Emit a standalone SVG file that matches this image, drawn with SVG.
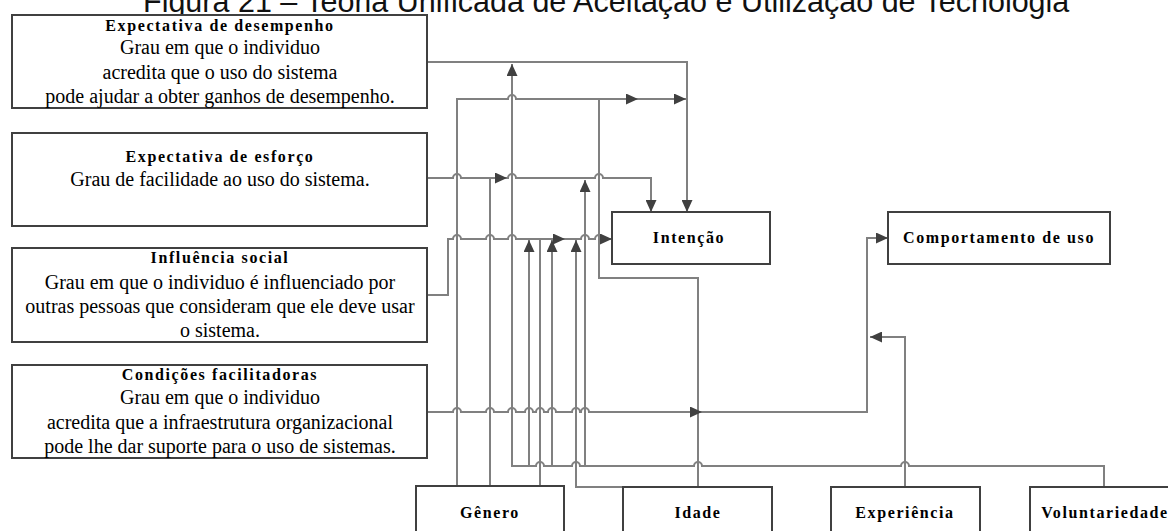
<svg xmlns="http://www.w3.org/2000/svg" width="1168" height="531" viewBox="0 0 1168 531">
<style>
.box{fill:#fff;stroke:#404040;stroke-width:2}
.ttl{font-family:"Liberation Serif",serif;font-weight:bold;font-size:16px;letter-spacing:1.6px;text-anchor:middle;fill:#000}
.body{font-family:"Liberation Serif",serif;font-size:20px;text-anchor:middle;fill:#000}
.conn{fill:none;stroke:#808080;stroke-width:2}
.arr{marker-end:url(#ah)}
.title{font-family:"Liberation Sans",Arial,sans-serif;font-size:30.5px;fill:#111}
</style>
<defs>
<marker id="ah" markerWidth="12" markerHeight="11" refX="12" refY="5.5" orient="auto" markerUnits="userSpaceOnUse"><path d="M0,0 L12,5.5 L0,11 z" fill="#404040"/></marker>
</defs>
<rect width="1168" height="531" fill="#fff"/>
<text class="title" x="143" y="12">Figura 21 – Teoria Unificada de Aceitação e Utilização de Tecnologia</text>

<g id="connectors">
<path class="conn arr" d="M427,62 H687 V212"/>
<path class="conn arr" d="M457,486 V99 H508 A4,4 0 0 1 516,99 H686"/>
<path class="conn arr" d="M698,487 V278 H599 V99 H638"/>
<path class="conn arr" d="M427,178 H453 A4,4 0 0 1 461,178 H508 A4,4 0 0 1 516,178 H595 A4,4 0 0 1 603,178 H651 V212"/>
<path class="conn arr" d="M490,486 V178 H507"/>
<path class="conn arr" d="M427,295 H448 V239 H453 A4,4 0 0 1 461,239 H486 A4,4 0 0 1 494,239 H508 A4,4 0 0 1 516,239 H581 A4,4 0 0 1 589,239 H595 A4,4 0 0 1 603,239 H612"/>
<path class="conn arr" d="M540,486 V239 H565"/>
<path class="conn arr" d="M427,412 H453 A4,4 0 0 1 461,412 H486 A4,4 0 0 1 494,412 H508 A4,4 0 0 1 516,412 H525 A4,4 0 0 1 533,412 H536 A4,4 0 0 1 544,412 H548 A4,4 0 0 1 556,412 H572 A4,4 0 0 1 580,412 H581 A4,4 0 0 1 589,412 H867 V238 H888"/>
<path class="conn arr" d="M690,412 H702"/>
<path class="conn arr" d="M1104,487 V466 H909 A4,4 0 0 0 901,466 H702 A4,4 0 0 0 694,466 H580 A4,4 0 0 0 572,466 H544 A4,4 0 0 0 536,466 H512 V64"/>
<path class="conn arr" d="M529,466 V240"/>
<path class="conn arr" d="M552,466 V240"/>
<path class="conn arr" d="M585,466 V180"/>
<path class="conn arr" d="M623,487 H576 V240"/>
<path class="conn arr" d="M905,487 V337 H870"/>
</g>

<g id="expectativa-desempenho">
<rect class="box" x="12" y="15" width="415" height="93"/>
<text class="ttl" x="220" y="31">Expectativa de desempenho</text>
<text class="body" x="220" y="54">Grau em que o individuo</text>
<text class="body" x="220" y="79">acredita que o uso do sistema</text>
<text class="body" x="220" y="103">pode ajudar a obter ganhos de desempenho.</text>
</g>

<g id="expectativa-esforco">
<rect class="box" x="12" y="133" width="415" height="93"/>
<text class="ttl" x="220" y="162">Expectativa de esforço</text>
<text class="body" x="220" y="186">Grau de facilidade ao uso do sistema.</text>
</g>

<g id="influencia-social">
<rect class="box" x="12" y="248" width="415" height="94"/>
<text class="ttl" x="220" y="263">Influência social</text>
<text class="body" x="220" y="289">Grau em que o individuo é influenciado por</text>
<text class="body" x="220" y="313">outras pessoas que consideram que ele deve usar</text>
<text class="body" x="220" y="337">o sistema.</text>
</g>

<g id="condicoes-facilitadoras">
<rect class="box" x="12" y="365" width="415" height="93"/>
<text class="ttl" x="220" y="380">Condições facilitadoras</text>
<text class="body" x="220" y="404">Grau em que o individuo</text>
<text class="body" x="220" y="429">acredita que a infraestrutura organizacional</text>
<text class="body" x="220" y="453">pode lhe dar suporte para o uso de sistemas.</text>
</g>

<g id="intencao">
<rect class="box" x="612" y="212" width="158" height="52"/>
<text class="ttl" x="689" y="243">Intenção</text>
</g>

<g id="comportamento">
<rect class="box" x="888" y="212" width="222" height="52"/>
<text class="ttl" x="999" y="243">Comportamento de uso</text>
</g>

<g id="genero">
<rect class="box" x="416" y="486" width="148" height="60"/>
<text class="ttl" x="490" y="518">Gênero</text>
</g>

<g id="idade">
<rect class="box" x="623" y="487" width="149" height="60"/>
<text class="ttl" x="698" y="518">Idade</text>
</g>

<g id="experiencia">
<rect class="box" x="831" y="487" width="149" height="60"/>
<text class="ttl" x="905" y="518">Experiência</text>
</g>

<g id="voluntariedade">
<rect class="box" x="1030" y="487" width="150" height="60"/>
<text class="ttl" x="1105" y="518">Voluntariedade</text>
</g>
</svg>
